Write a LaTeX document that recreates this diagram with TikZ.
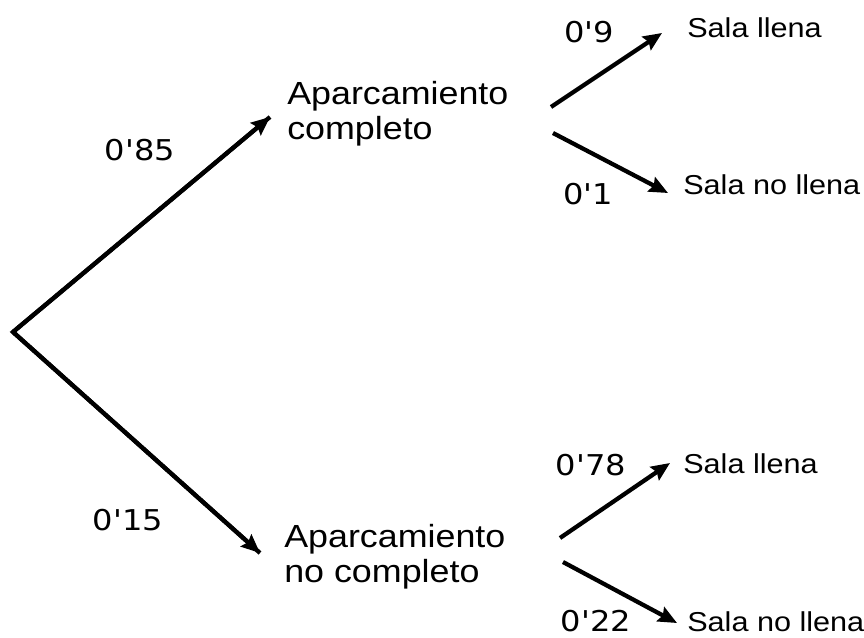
\documentclass[tikz,border=0pt]{standalone}
\usepackage{fontspec}
\setmainfont{Liberation Sans}
\newfontfamily\labfont[FakeStretch=1.12]{Liberation Sans}
\newfontfamily\numfont[FakeStretch=1.12]{DejaVu Sans}
\usetikzlibrary{arrows.meta}
\usetikzlibrary{calc}

\tikzset{
        parking/.style={font=\labfont\fontsize{24}{26}\selectfont, inner sep=0pt, align=left, anchor=west},
        sala/.style={font=\labfont\fontsize{20.5}{24}\selectfont, inner sep=0pt, anchor=base west},
        prob/.style={font=\numfont\fontsize{21.5}{24}\selectfont, inner sep=0pt},
        branch/.style={line width=3.2pt, ->}
}

\begin{document}
\begin{tikzpicture}[x=0.75pt, y=0.75pt, >={Stealth[length=14pt, width=12pt, inset=2pt]}]
        \useasboundingbox (0,0) rectangle (864,637);
        \coordinate (root) at (13,305);

        \node[parking] (comp) at (287,523) {Aparcamiento\\completo};
        \node[parking] (nocomp) at (284,80) {Aparcamiento\\no completo};

        \node[sala] (llena1) at (687,599) {Sala llena};
        \node[sala] (nollena1) at (683,443) {Sala no llena};
        \node[sala] (llena2) at (683,164) {Sala llena};
        \node[sala] (nollena2) at (687,6) {Sala no llena};

        \node[prob] (p85) at (140,487) {0'85};
        \node[prob] (p15) at (128,117) {0'15};
        \node[prob] (p9) at (589,605) {0'9};
        \node[prob] (p1) at (588,443) {0'1};
        \node[prob] (p78) at (591,172) {0'78};
        \node[prob] (p22) at (596,16) {0'22};

        \draw[line width=3.2pt, line join=miter] ($(comp.west)+(-17,-3)$) -- (root) -- ($(nocomp.west)+(-24,4)$);
        \draw[branch] (root) -- ($(comp.west)+(-17,-3)$);
        \draw[branch] (root) -- ($(nocomp.west)+(-24,4)$);
        \draw[branch] ($(comp.west)+(264,7)$) -- ($(llena1.base west)+(-25,5)$);
        \draw[branch] ($(comp.west)+(266,-19)$) -- ($(nollena1.base west)+(-15,1)$);
        \draw[branch] ($(nocomp.west)+(276,19)$) -- ($(llena2.base west)+(-13,10)$);
        \draw[branch] ($(nocomp.west)+(279,-5)$) -- ($(nollena2.base west)+(-10,8)$);
\end{tikzpicture}
\end{document}
